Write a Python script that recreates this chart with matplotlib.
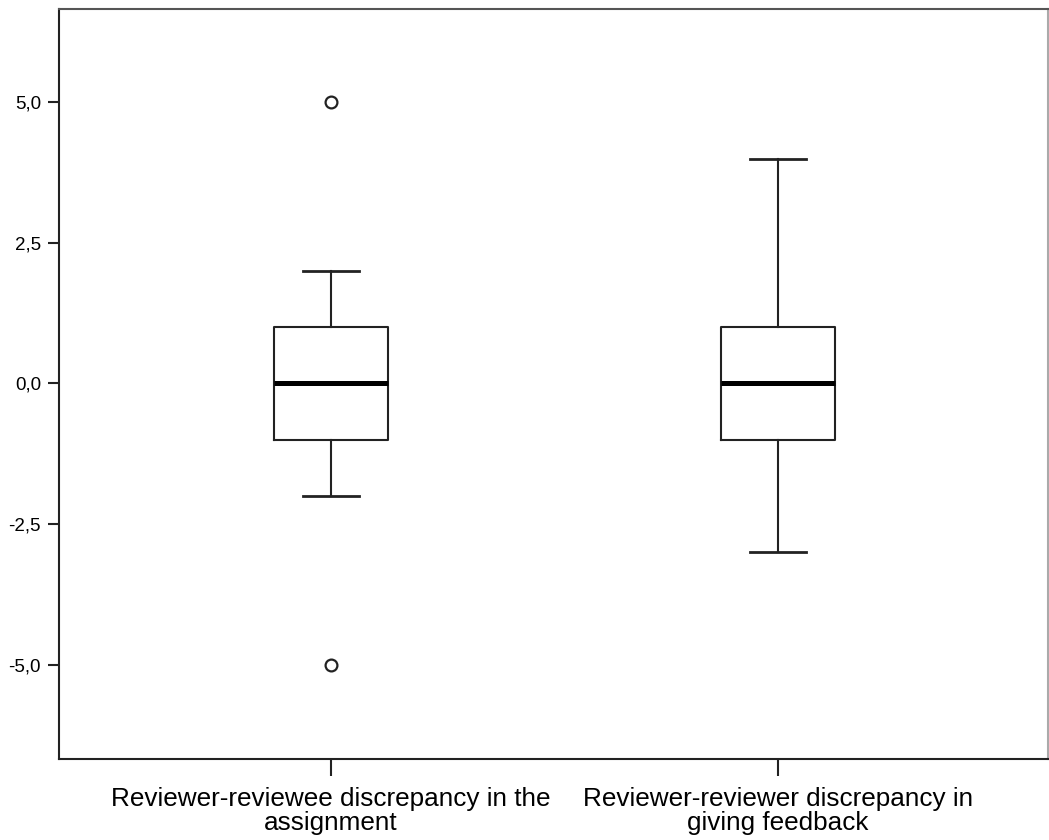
import matplotlib
matplotlib.use("Agg")
import matplotlib.pyplot as plt
from matplotlib.ticker import FuncFormatter

plt.rcParams['font.family'] = ['Liberation Sans', 'DejaVu Sans']

# box statistics
labels = ["Reviewer-reviewee discrepancy in the\nassignment",
          "Reviewer-reviewer discrepancy in\ngiving feedback"]
q1 = [-1.0, -1.0]
med = [0.0, 0.0]
q3 = [1.0, 1.0]
wlo = [-2.0, -3.0]
whi = [2.0, 4.0]
outliers = [[5.0, -5.0], []]
yticks = [-5.0, -2.5, 0.0, 2.5, 5.0]

stats = []
for i in range(len(labels)):
    stats.append(dict(label=labels[i], q1=q1[i], med=med[i], q3=q3[i],
                      whislo=wlo[i], whishi=whi[i], fliers=outliers[i]))

fig = plt.figure(figsize=(10.49, 8.4), dpi=100)
ax = fig.add_axes([59/1049, 1 - 759/840, (1048-59)/1049, (759-9)/840])

ax.bxp(stats, positions=[1, 2], widths=0.253, showfliers=True,
       boxprops=dict(color='#222222', linewidth=1.5),
       medianprops=dict(color='black', linewidth=3.6),
       whiskerprops=dict(color='#222222', linewidth=1.5),
       capprops=dict(color='#222222', linewidth=2.0),
       capwidths=0.125,
       flierprops=dict(marker='o', markerfacecolor='white',
                       markeredgecolor='#222222', markersize=8.5,
                       markeredgewidth=1.6))

ax.set_xlim(0.3915, 2.604)
ax.set_ylim(-6.68, 6.66)
ax.set_yticks(yticks)
ax.yaxis.set_major_formatter(FuncFormatter(lambda v, p: ('%.1f' % v).replace('.', ',')))
ax.tick_params(axis='y', length=8, width=1.5, pad=5, labelsize=13.5, color='#222222')
ax.tick_params(axis='x', length=12, width=1.5, pad=8, labelsize=18.8, color='#222222')
for lab in ax.get_xticklabels():
    lab.set_linespacing(1.0)

for s in ax.spines.values():
    s.set_color('#222222')
    s.set_linewidth(1.5)
ax.spines['top'].set_color('#555555')
ax.spines['right'].set_color('#aaaaaa')

fig.savefig("out.png", dpi=100)
